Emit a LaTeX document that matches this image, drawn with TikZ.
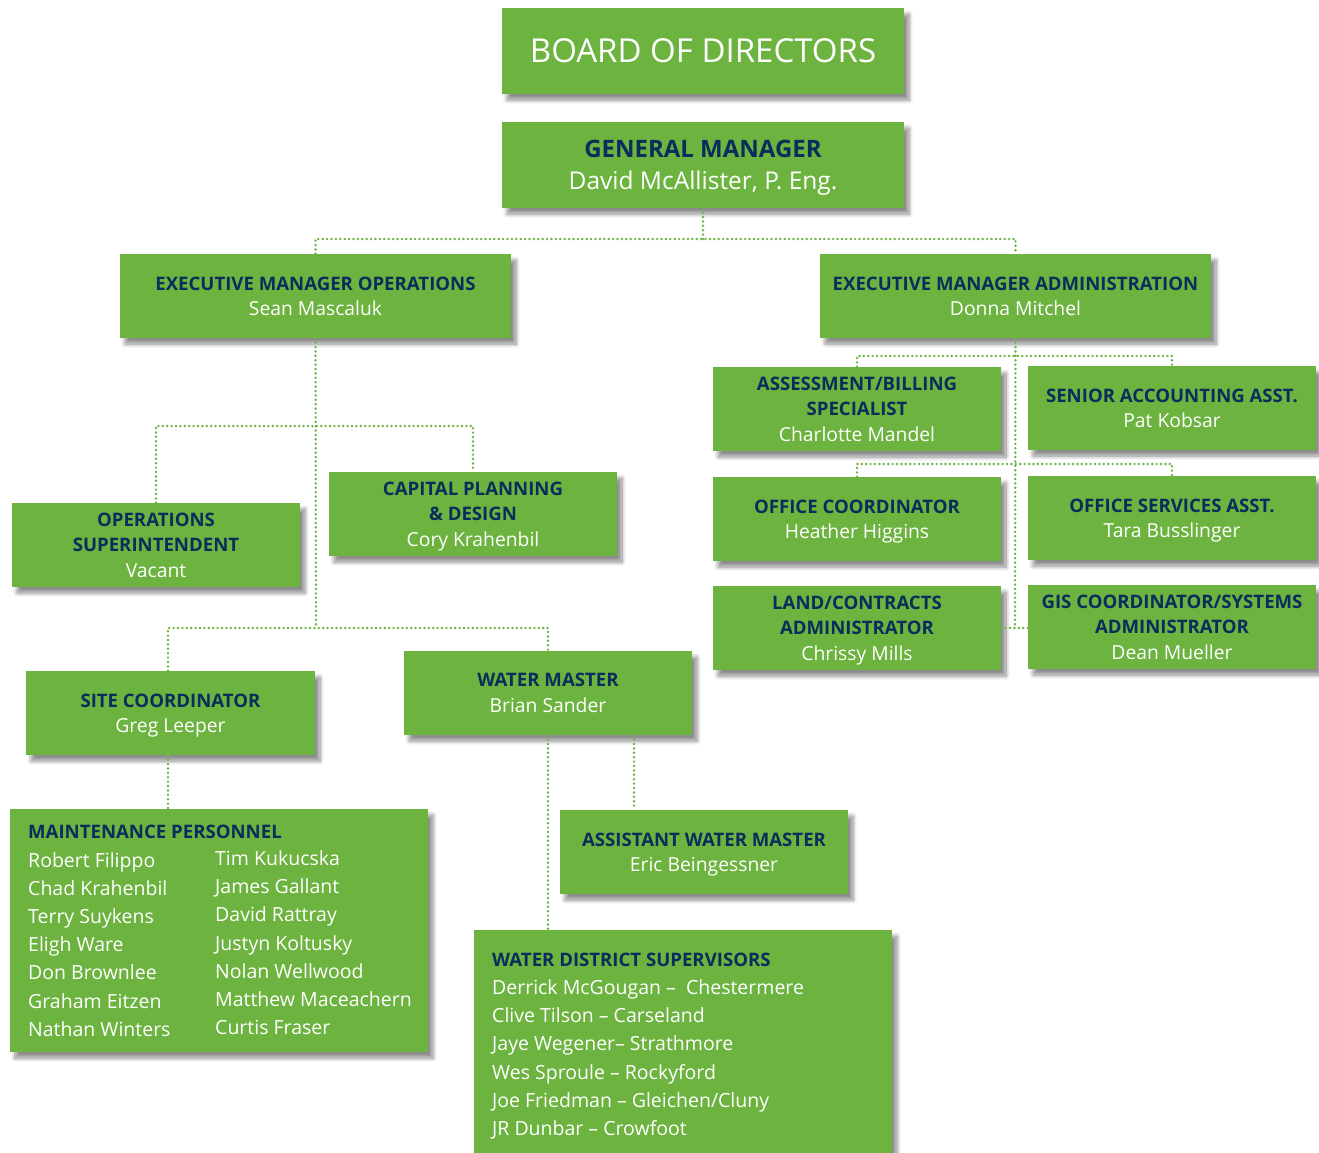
\documentclass[tikz,border=0pt]{standalone}
\usepackage{fontspec}
\setmainfont{Open Sans}
\usetikzlibrary{shadows.blur}
\definecolor{boxgreen}{HTML}{6CB33F}
\definecolor{navy}{HTML}{0B2D5C}
\tikzset{
  orgbox/.style={rectangle, fill=boxgreen, inner sep=0pt, align=center, text=white, text depth=0pt,
    blur shadow={shadow xshift=5pt, shadow yshift=-6pt, shadow blur steps=10, shadow opacity=45, shadow blur radius=4pt},
    font=\fontsize{19.3}{25.5}\selectfont},
  conn/.style={draw=boxgreen, line width=2.7pt, line cap=round, dash pattern=on 0pt off 4.4pt},
  listtxt/.style={text=white, align=left, inner sep=0pt, anchor=base west, font=\fontsize{19.5}{28.2}\selectfont}
}
\newcommand{\hdr}[1]{{\color{navy}\bfseries\fontsize{18.6}{25.5}\selectfont #1}}
\begin{document}
\begin{tikzpicture}[x=1pt,y=-1pt]
\useasboundingbox (0,0) rectangle (1319,1152);
% nodes
\node[orgbox, minimum width=402, minimum height=86, font=\fontsize{33}{36}\selectfont] (board) at (703,51) {BOARD OF DIRECTORS};
\node[orgbox, minimum width=402, minimum height=86, font=\fontsize{24.5}{32}\selectfont] (gm) at (703,165) {{\color{navy}\bfseries\fontsize{24}{32}\selectfont GENERAL MANAGER}\\David McAllister, P. Eng.};
\node[orgbox, minimum width=391, minimum height=84] (emo) at (315.5,296) {\hdr{EXECUTIVE MANAGER OPERATIONS}\\Sean Mascaluk};
\node[orgbox, minimum width=391, minimum height=84] (ema) at (1015.5,296) {\hdr{EXECUTIVE MANAGER ADMINISTRATION}\\Donna Mitchel};
\node[orgbox, minimum width=288, minimum height=84] (ops) at (156,545) {\hdr{OPERATIONS}\\\hdr{SUPERINTENDENT}\\Vacant};
\node[orgbox, minimum width=288, minimum height=84] (cap) at (473,514) {\hdr{CAPITAL PLANNING}\\\hdr{\& DESIGN}\\Cory Krahenbil};
\node[orgbox, minimum width=289, minimum height=84] (site) at (170.5,713) {\hdr{SITE COORDINATOR}\\Greg Leeper};
\node[orgbox, minimum width=288, minimum height=84] (wm) at (548,693) {\hdr{WATER MASTER}\\Brian Sander};
\node[orgbox, minimum width=418, minimum height=243] (maint) at (219,930.5) {};
\node[orgbox, minimum width=288, minimum height=84] (asst) at (704,852) {\hdr{ASSISTANT WATER MASTER}\\Eric Beingessner};
\node[orgbox, minimum width=418, minimum height=240] (wds) at (683,1050) {};
\node[orgbox, minimum width=288, minimum height=84] (abs) at (857,409) {\hdr{ASSESSMENT/BILLING}\\\hdr{SPECIALIST}\\Charlotte Mandel};
\node[orgbox, minimum width=288, minimum height=84] (saa) at (1172,408) {\hdr{SENIOR ACCOUNTING ASST.}\\Pat Kobsar};
\node[orgbox, minimum width=288, minimum height=84] (oc) at (857,519) {\hdr{OFFICE COORDINATOR}\\Heather Higgins};
\node[orgbox, minimum width=288, minimum height=84] (osa) at (1172,518) {\hdr{OFFICE SERVICES ASST.}\\Tara Busslinger};
\node[orgbox, minimum width=288, minimum height=84] (lca) at (857,628) {\hdr{LAND/CONTRACTS}\\\hdr{ADMINISTRATOR}\\Chrissy Mills};
\node[orgbox, minimum width=288, minimum height=84] (gis) at (1172,627) {\hdr{GIS COORDINATOR/SYSTEMS}\\\hdr{ADMINISTRATOR}\\Dean Mueller};
% list texts
\node[listtxt] (mainthd) at (28,838) {\hdr{MAINTENANCE PERSONNEL}};
\node[listtxt, anchor=north west] (maintc1) at (28,852) {Robert Filippo\\Chad Krahenbil\\Terry Suykens\\Eligh Ware\\Don Brownlee\\Graham Eitzen\\Nathan Winters};
\node[listtxt, anchor=north west] (maintc2) at (215,850.5) {Tim Kukucska\\James Gallant\\David Rattray\\Justyn Koltusky\\Nolan Wellwood\\Matthew Maceachern\\Curtis Fraser};
\node[listtxt] (wdshd) at (492,966) {\hdr{WATER DISTRICT SUPERVISORS}};
\node[listtxt, anchor=north west] (wdsl) at (492,979.5) {Derrick McGougan --\ \ Chestermere\\Clive Tilson -- Carseland\\Jaye Wegener-- Strathmore\\Wes Sproule -- Rockyford\\Joe Friedman -- Gleichen/Cluny\\JR Dunbar -- Crowfoot};
% junctions
\coordinate (j0) at (703,239);
\coordinate (j1) at (316,426);
\coordinate (j2) at (316,628);
\coordinate (r1) at (1015,356);
\coordinate (r2) at (1015,464);
\coordinate (r3) at (1015,627);
% connectors
\draw[conn] (gm.south) -- (j0);
\draw[conn] (emo.north) |- (j0) -| (ema.north);
\draw[conn] (emo.south) -- (j2);
\draw[conn] (ops.north) |- (j1) -| (cap.north);
\draw[conn] (site.north -| 168,0) |- (j2) -| (wm.north);
\draw[conn] (site.south -| 168,0) -- (maint.north -| 168,0);
\draw[conn] (wm.south) -- (wm.south |- wds.north);
\draw[conn] (wm.south -| 634,0) -- (asst.north -| 634,0);
\draw[conn] (ema.south) -- (r3);
\draw[conn] (abs.north) |- (r1) -| (saa.north);
\draw[conn] (oc.north) |- (r2) -| (osa.north);
\draw[conn] (lca.east) -- (lca.east -| gis.west);
\end{tikzpicture}
\end{document}
